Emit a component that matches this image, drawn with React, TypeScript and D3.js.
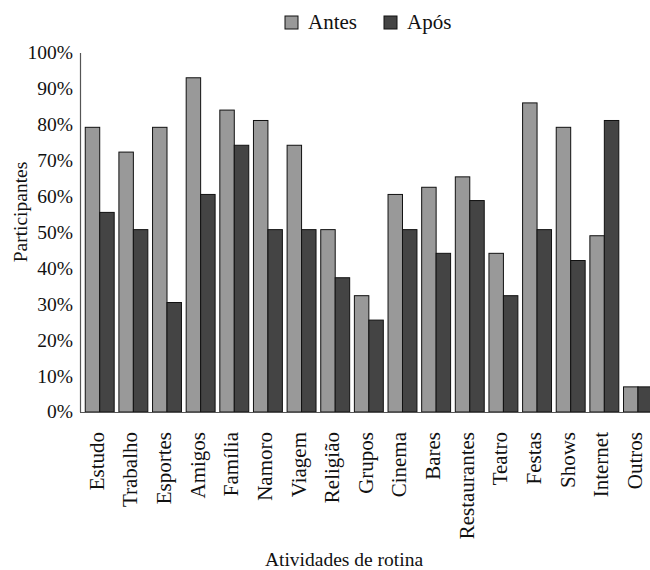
import * as React from 'react';
import * as d3 from 'd3';

const categories = ['Estudo', 'Trabalho', 'Esportes', 'Amigos', 'Família', 'Namoro', 'Viagem', 'Religião', 'Grupos', 'Cinema', 'Bares', 'Restaurantes', 'Teatro', 'Festas', 'Shows', 'Internet', 'Outros'];
const antes = [79.3, 72.4, 79.3, 93.1, 84.1, 81.2, 74.3, 50.8, 32.4, 60.6, 62.6, 65.5, 44.2, 86.1, 79.3, 49.1, 7.0];
const apos = [55.6, 50.8, 30.5, 60.6, 74.3, 50.8, 50.8, 37.4, 25.6, 50.8, 44.2, 58.9, 32.4, 50.8, 42.2, 81.2, 7.0];
const series = ['Antes', 'Após'];
const colors = ['#999999', '#444444'];
const yTicks = [0, 10, 20, 30, 40, 50, 60, 70, 80, 90, 100];

const W = 650;
const H = 570;
const font = "'Liberation Serif', 'DejaVu Serif', serif";

export default function App() {
  const ref = React.useRef<SVGSVGElement>(null);

  React.useEffect(() => {
    const svg = d3.select(ref.current);
    svg.selectAll('*').remove();

    const x = d3.scaleBand().domain(categories).range([82.9, 654.8]).paddingInner(0).paddingOuter(0);
    const inner = d3.scaleBand().domain(series).range([0, x.bandwidth()]).paddingInner(0).paddingOuter(0.163);
    const y = d3.scaleLinear().domain([0, 100]).range([412, 53]);

    const g = svg.append('g').style('font-family', font).attr('fill', '#111');

    const groups = g.selectAll('.grp')
      .data(categories)
      .enter()
      .append('g')
      .attr('transform', d => `translate(${x(d)},0)`);

    groups.selectAll('rect')
      .data((d, i) => [antes[i], apos[i]])
      .enter()
      .append('rect')
      .attr('x', (d, j) => inner(series[j]) as number)
      .attr('y', d => y(d))
      .attr('width', inner.bandwidth())
      .attr('height', d => y(0) - y(d))
      .attr('fill', (d, j) => colors[j])
      .attr('stroke', '#111')
      .attr('stroke-width', 1);

    // axis lines, no tick marks
    g.append('line').attr('x1', 80.5).attr('x2', 80.5).attr('y1', y(100)).attr('y2', y(0))
      .attr('stroke', '#555').attr('stroke-width', 1.2);
    g.append('line').attr('x1', 80).attr('x2', W).attr('y1', y(0) + 0.5).attr('y2', y(0) + 0.5)
      .attr('stroke', '#555').attr('stroke-width', 1.2);

    g.selectAll('.ytick')
      .data(yTicks)
      .enter()
      .append('text')
      .attr('x', 73)
      .attr('y', d => y(d))
      .attr('dy', '0.33em')
      .attr('text-anchor', 'end')
      .style('font-size', '19.5px')
      .text(d => `${d}%`);

    g.selectAll('.xlab')
      .data(categories)
      .enter()
      .append('text')
      .attr('transform', d => `translate(${(x(d) as number) + x.bandwidth() / 2 + 4},432) rotate(-90)`)
      .attr('text-anchor', 'end')
      .style('font-size', '21px')
      .text(d => d);

    g.append('text')
      .attr('transform', 'translate(27,212) rotate(-90)')
      .attr('text-anchor', 'middle')
      .style('font-size', '19.5px')
      .text('Participantes');

    g.append('text')
      .attr('x', 344)
      .attr('y', 566)
      .attr('text-anchor', 'middle')
      .style('font-size', '19.5px')
      .text('Atividades de rotina');

    const legendX = [285, 384];
    const legend = g.selectAll('.leg')
      .data(series)
      .enter()
      .append('g')
      .attr('transform', (d, i) => `translate(${legendX[i]},16)`);
    legend.append('rect')
      .attr('width', 13)
      .attr('height', 13)
      .attr('fill', (d, i) => colors[i])
      .attr('stroke', '#111')
      .attr('stroke-width', 1);
    legend.append('text')
      .attr('x', 23)
      .attr('y', 13)
      .style('font-size', '21px')
      .text(d => d);
  }, []);

  return (
    <svg ref={ref} width={W} height={H} style={{ position: 'absolute', left: 0, top: 0, background: '#fff' }} />
  );
}
